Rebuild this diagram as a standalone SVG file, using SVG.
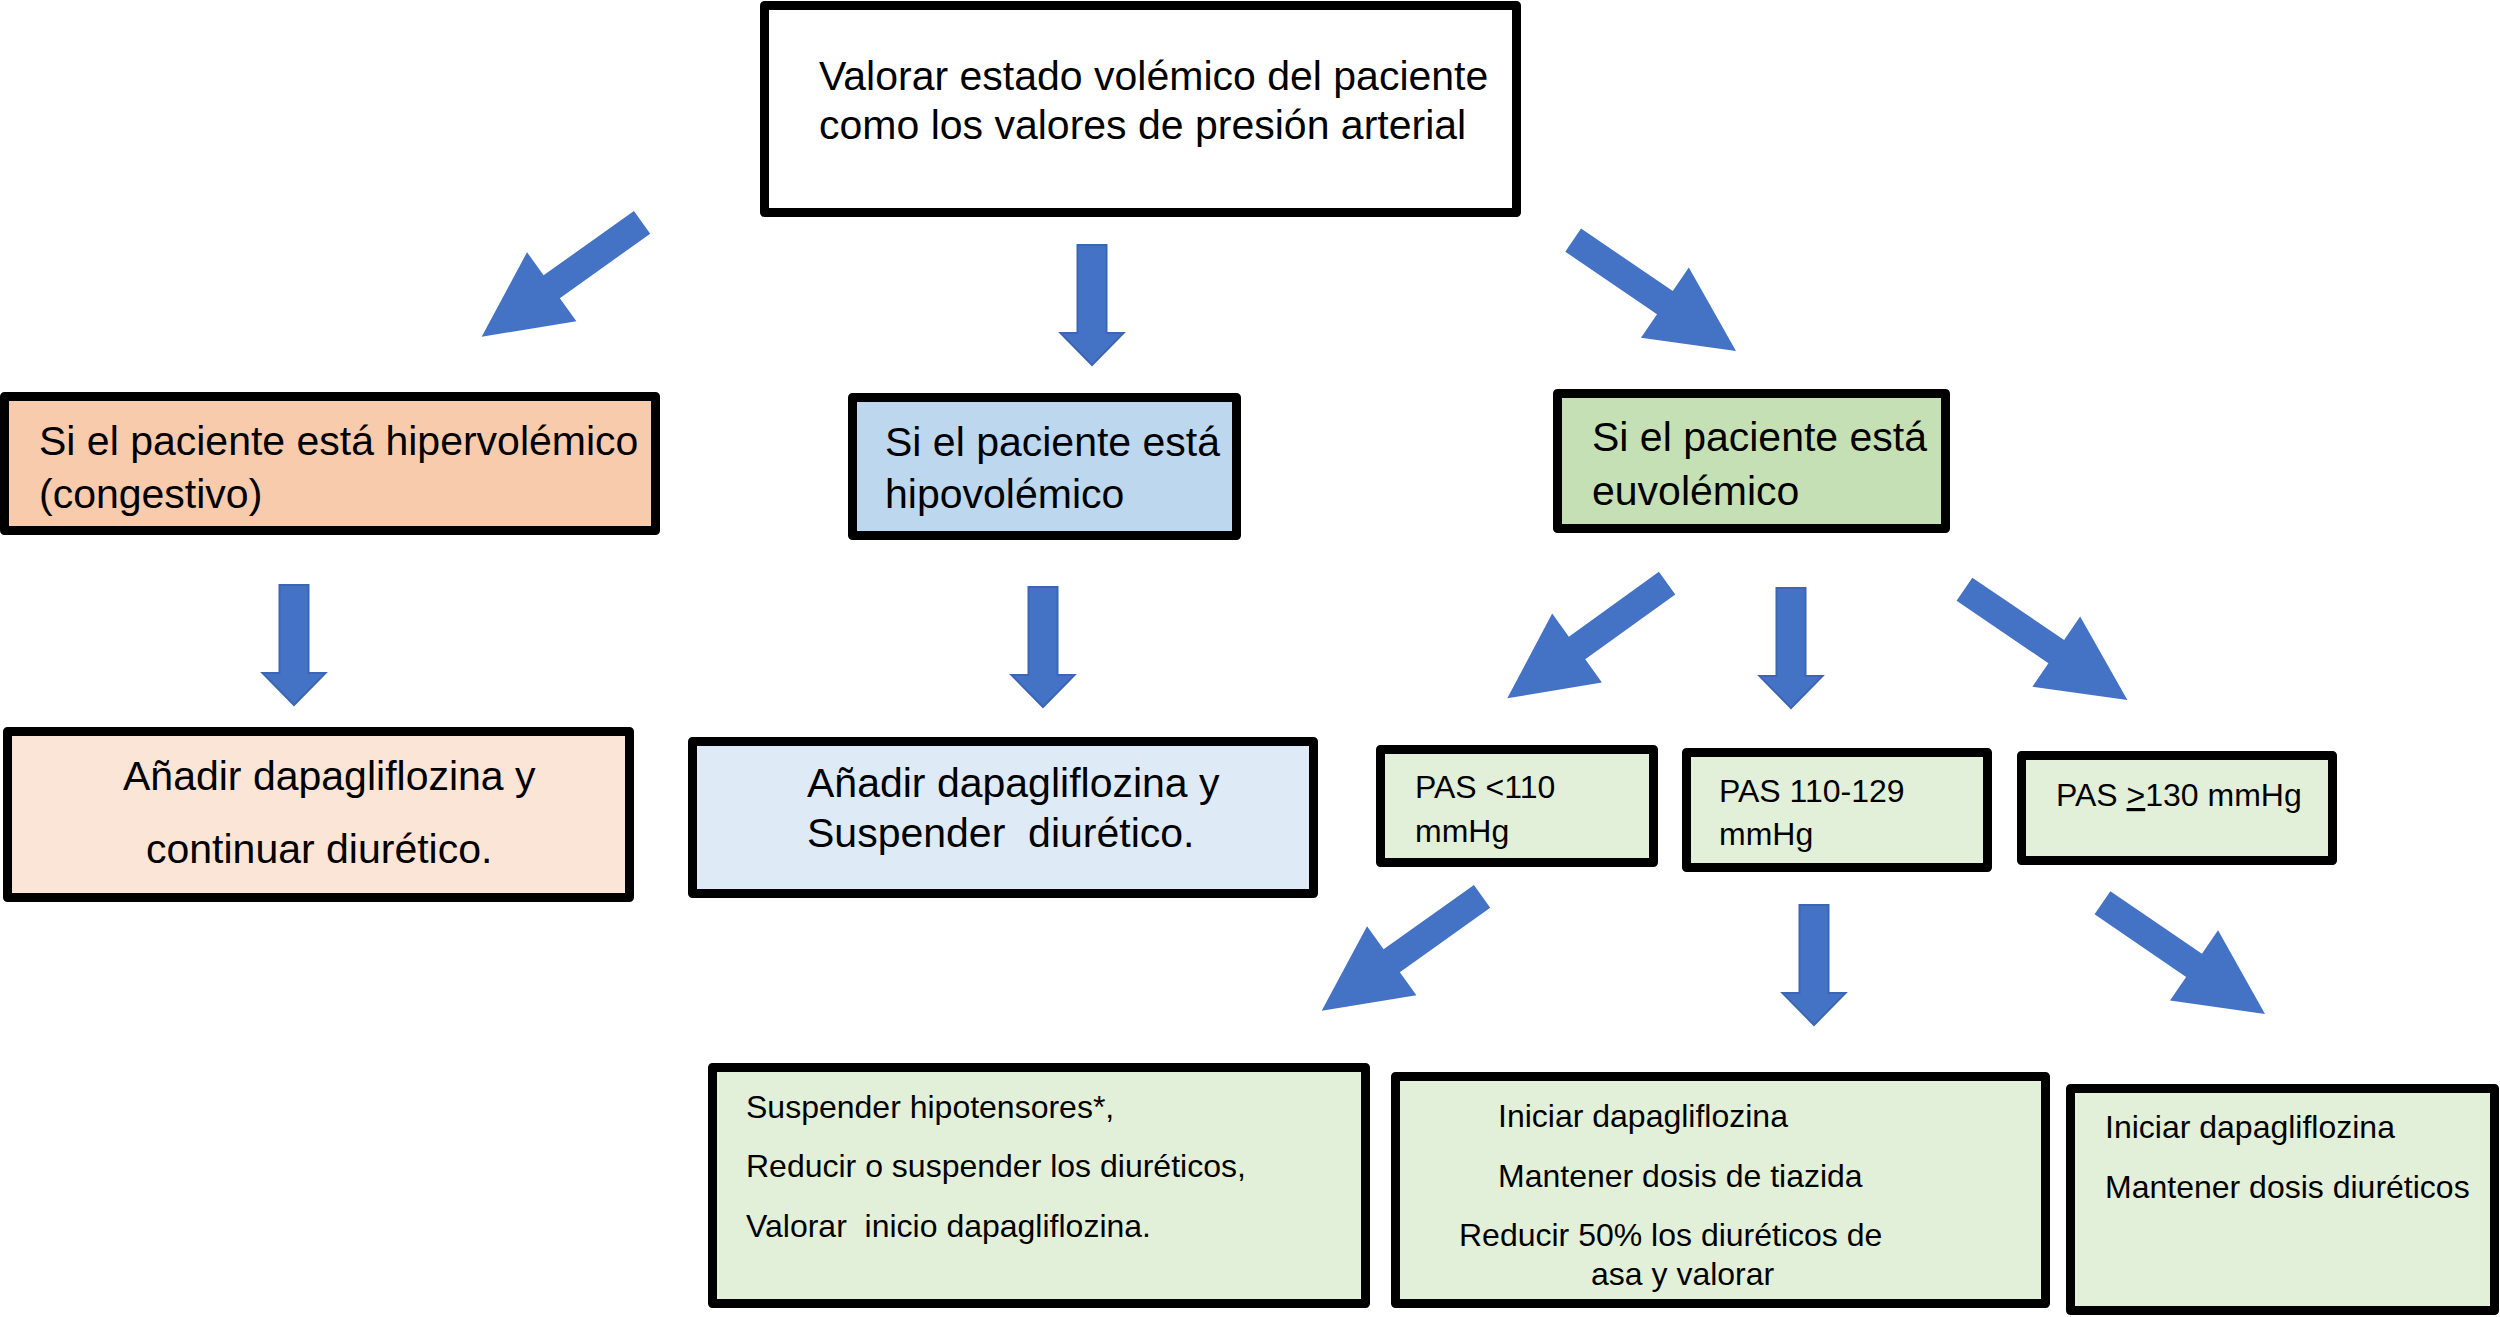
<svg xmlns="http://www.w3.org/2000/svg" xmlns:xlink="http://www.w3.org/1999/xlink" width="2500" height="1317" viewBox="0 0 2500 1317">
<style>
.box{stroke:#000;stroke-width:9;stroke-linejoin:round}
.t41{font-family:"Liberation Sans",Arial,sans-serif;font-size:41px;fill:#000;white-space:pre}
.t32{font-family:"Liberation Sans",Arial,sans-serif;font-size:32px;fill:#000;white-space:pre}
.arr{fill:#4472C4}
.varr{fill:#4472C4;stroke:#3A66B3;stroke-width:2}
</style>
<defs>
<polygon id="diag" points="-197,-14 -86,-14 -86,-42.5 0,0 -86,42.5 -86,14 -197,14"/>
<polygon id="vert" points="-14.5,-120 14.5,-120 14.5,-32 31.5,-32 0,0 -31.5,-32 -14.5,-32"/>
</defs>
<rect width="2500" height="1317" fill="#fff"/>
<g id="connectors">
<use xlink:href="#diag" class="arr" transform="translate(481.7,336.7) rotate(144.5)"/>
<use xlink:href="#vert" class="varr" transform="translate(1092,365)"/>
<use xlink:href="#diag" class="arr" transform="translate(1736,351) rotate(34.25)"/>
<use xlink:href="#vert" class="varr" transform="translate(294,705)"/>
<use xlink:href="#vert" class="varr" transform="translate(1043,707)"/>
<use xlink:href="#diag" class="arr" transform="translate(1507.3,698.3) rotate(144.2)"/>
<use xlink:href="#vert" class="varr" transform="translate(1791,708)"/>
<use xlink:href="#diag" class="arr" transform="translate(2127.4,700) rotate(34.2)"/>
<use xlink:href="#diag" class="arr" transform="translate(1321.7,1010.7) rotate(144.5)"/>
<use xlink:href="#vert" class="varr" transform="translate(1814,1025)"/>
<use xlink:href="#diag" class="arr" transform="translate(2265,1014) rotate(34.4)"/>
</g>
<g id="n-top">
<rect class="box" x="764.5" y="5.5" width="752" height="207" fill="#fff"/>
<text class="t41" x="819" y="90">Valorar estado volémico del paciente</text>
<text class="t41" x="819" y="139">como los valores de presión arterial</text>
</g>
<g id="n-hiper">
<rect class="box" x="4.5" y="396.5" width="651" height="134" fill="#F8CBAD"/>
<text class="t41" x="39" y="455">Si el paciente está hipervolémico</text>
<text class="t41" x="39" y="508">(congestivo)</text>
</g>
<g id="n-hipo">
<rect class="box" x="852.5" y="397.5" width="384" height="138" fill="#BDD7EE"/>
<text class="t41" x="885" y="456">Si el paciente está</text>
<text class="t41" x="885" y="508">hipovolémico</text>
</g>
<g id="n-euvo">
<rect class="box" x="1557.5" y="393.5" width="388" height="135" fill="#C5E0B4"/>
<text class="t41" x="1592" y="451">Si el paciente está</text>
<text class="t41" x="1592" y="505">euvolémico</text>
</g>
<g id="n-hiper-accion">
<rect class="box" x="7.5" y="731.5" width="622" height="166" fill="#FBE5D6"/>
<text class="t41" x="123" y="790">Añadir dapagliflozina y</text>
<text class="t41" x="146" y="863">continuar diurético.</text>
</g>
<g id="n-hipo-accion">
<rect class="box" x="692.5" y="741.5" width="621" height="152" fill="#DEEBF7"/>
<text class="t41" x="807" y="797">Añadir dapagliflozina y</text>
<text class="t41" x="807" y="847">Suspender  diurético.</text>
</g>
<g id="n-pas1">
<rect class="box" x="1380.5" y="749.5" width="273" height="113" fill="#E2F0D9"/>
<text class="t32" x="1415" y="798">PAS &lt;110</text>
<text class="t32" x="1415" y="842">mmHg</text>
</g>
<g id="n-pas2">
<rect class="box" x="1686.5" y="752.5" width="301" height="115" fill="#E2F0D9"/>
<text class="t32" x="1719" y="802">PAS 110-129</text>
<text class="t32" x="1719" y="845">mmHg</text>
</g>
<g id="n-pas3">
<rect class="box" x="2021.5" y="755.5" width="311" height="105" fill="#E2F0D9"/>
<text class="t32" x="2056" y="806">PAS <tspan text-decoration="underline">&gt;</tspan>130 mmHg</text>
</g>
<g id="n-accion1">
<rect class="box" x="712.5" y="1067.5" width="653" height="236" fill="#E2F0D9"/>
<text class="t32" x="746" y="1118">Suspender hipotensores*,</text>
<text class="t32" x="746" y="1177">Reducir o suspender los diuréticos,</text>
<text class="t32" x="746" y="1237">Valorar  inicio dapagliflozina.</text>
</g>
<g id="n-accion2">
<rect class="box" x="1395.5" y="1076.5" width="650" height="227" fill="#E2F0D9"/>
<text class="t32" x="1498" y="1127">Iniciar dapagliflozina</text>
<text class="t32" x="1498" y="1187">Mantener dosis de tiazida</text>
<text class="t32" x="1459" y="1246">Reducir 50% los diuréticos de</text>
<text class="t32" x="1591" y="1285">asa y valorar</text>
</g>
<g id="n-accion3">
<rect class="box" x="2070.5" y="1088.5" width="424" height="222" fill="#E2F0D9"/>
<text class="t32" x="2105" y="1138">Iniciar dapagliflozina</text>
<text class="t32" x="2105" y="1198">Mantener dosis diuréticos</text>
</g>
</svg>
